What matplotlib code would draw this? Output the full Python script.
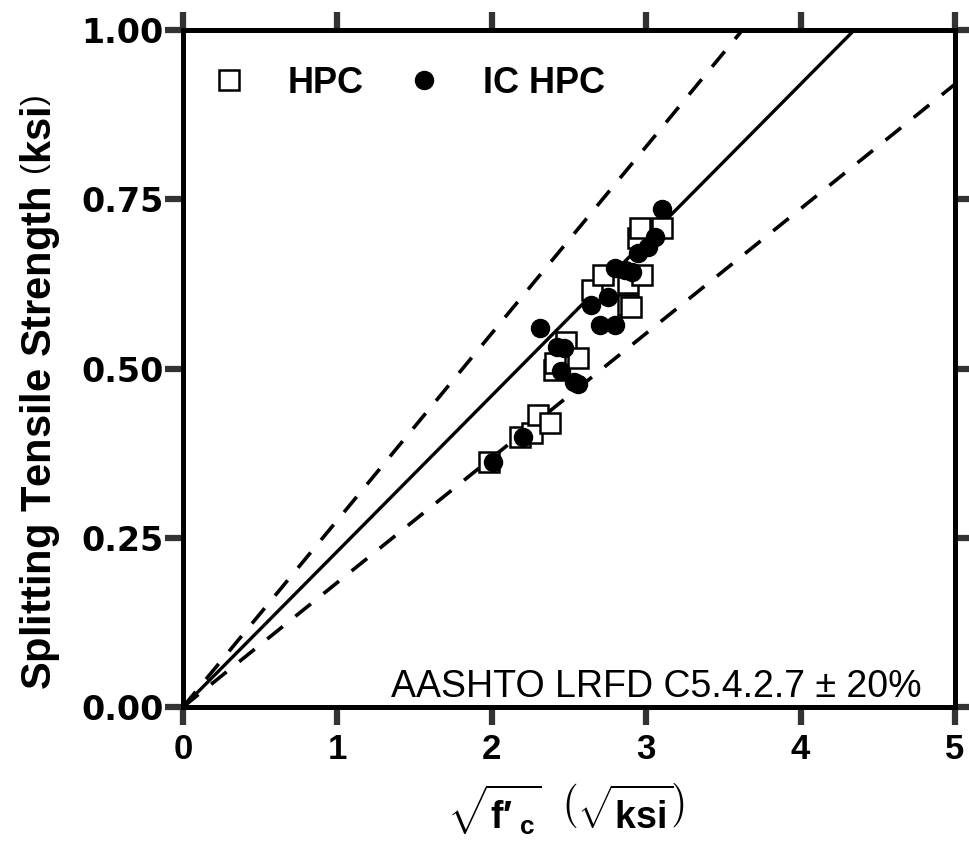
import numpy as np
import matplotlib
matplotlib.use('Agg')
import matplotlib.pyplot as plt

plt.rcParams['font.family'] = ['Liberation Sans', 'DejaVu Sans']
plt.rcParams['mathtext.fontset'] = 'custom'
plt.rcParams['mathtext.rm'] = 'Liberation Sans'
plt.rcParams['mathtext.bf'] = 'Liberation Sans:bold'
plt.rcParams['mathtext.it'] = 'Liberation Sans:italic'

# HPC (open squares): sqrt(f'c) [sqrt(ksi)], splitting tensile strength [ksi]
hpc_x = [1.98, 2.18, 2.26, 2.30, 2.38, 2.40, 2.41, 2.48, 2.56, 2.65,
         2.72, 2.88, 2.88, 2.90, 2.97, 2.95, 2.96, 3.10]
hpc_y = [0.362, 0.399, 0.405, 0.431, 0.419, 0.498, 0.508, 0.539, 0.516, 0.616,
         0.638, 0.626, 0.594, 0.591, 0.638, 0.693, 0.708, 0.708]

# IC HPC (filled circles)
ic_x = [2.01, 2.20, 2.31, 2.42, 2.47, 2.45, 2.53, 2.56, 2.64, 2.70,
        2.80, 2.75, 2.80, 2.86, 2.91, 2.95, 3.01, 3.06, 3.10]
ic_y = [0.362, 0.399, 0.560, 0.532, 0.530, 0.496, 0.480, 0.477, 0.594, 0.564,
        0.564, 0.606, 0.648, 0.645, 0.643, 0.671, 0.680, 0.694, 0.736]

# AASHTO LRFD C5.4.2.7: fsp = 0.23 sqrt(f'c), +/- 20 %
k_aashto = 0.23
band = [1.2, 0.8]

x_ticks = [0, 1, 2, 3, 4, 5]
y_ticks = [0.0, 0.25, 0.50, 0.75, 1.00]
y_tick_labels = ['0.00', '0.25', '0.50', '0.75', '1.00']

fig = plt.figure(figsize=(9.69, 8.42), dpi=100)
ax = fig.add_axes([183/969, 1 - 707/842, 772/969, 677/842])

xl = np.array([0, 5.0])
ax.plot(xl, k_aashto * xl, color='black', lw=2.4, zorder=2)
for f in band:
    ax.plot(xl, f * k_aashto * xl, color='black', lw=2.6,
            dashes=(5.5, 4.5), zorder=2)

ax.plot(hpc_x, hpc_y, 's', ms=15, mfc='white', mec='black', mew=1.8,
        linestyle='none', label='HPC', zorder=3)
ax.plot(ic_x, ic_y, 'o', ms=13, mfc='black', mec='black',
        linestyle='none', label='IC HPC', zorder=4)

ax.set_xlim(0, 5)
ax.set_ylim(0, 1)

ax.set_xticks(x_ticks)
ax.set_xticklabels([str(t) for t in x_ticks], fontsize=25, fontweight='bold')
ax.set_yticks(y_ticks)
ax.set_yticklabels(y_tick_labels, fontsize=24, fontweight='bold',
                   family='DejaVu Sans')

ax.tick_params(direction='out', length=13, width=4.5, color='#333333',
               top=True, right=True)
ax.tick_params(axis='x', pad=6)
ax.tick_params(axis='y', pad=1)
for s in ax.spines.values():
    s.set_linewidth(3.6)
    s.set_zorder(5)

ax.text(4.786, 0.0148, u'AASHTO LRFD C5.4.2.7 \u00b1 20%', fontsize=27,
        ha='right', va='baseline')

leg = ax.legend(loc='center left', bbox_to_anchor=(0.0356, 0.9217),
                ncol=2, frameon=False, borderpad=0, handlelength=1,
                handletextpad=1.15, columnspacing=1.15, borderaxespad=0,
                prop={'size': 26, 'weight': 'bold'})

fig.text(40/969, 1 - 392/842, 'Splitting Tensile Strength $\\left(\\mathbf{ksi}\\right)$',
         rotation=90, fontsize=30, fontweight='bold', ha='center', va='center')
fig.text(566/969, 1 - 810/842,
         "$\\sqrt{\\mathbf{f\u2032}_{\\ \\mathbf{c}}}\\ \\ \\left(\\sqrt{\\mathbf{ksi}}\\right)$",
         fontsize=27, ha='center', va='center')

fig.savefig('out.png', dpi=100)
